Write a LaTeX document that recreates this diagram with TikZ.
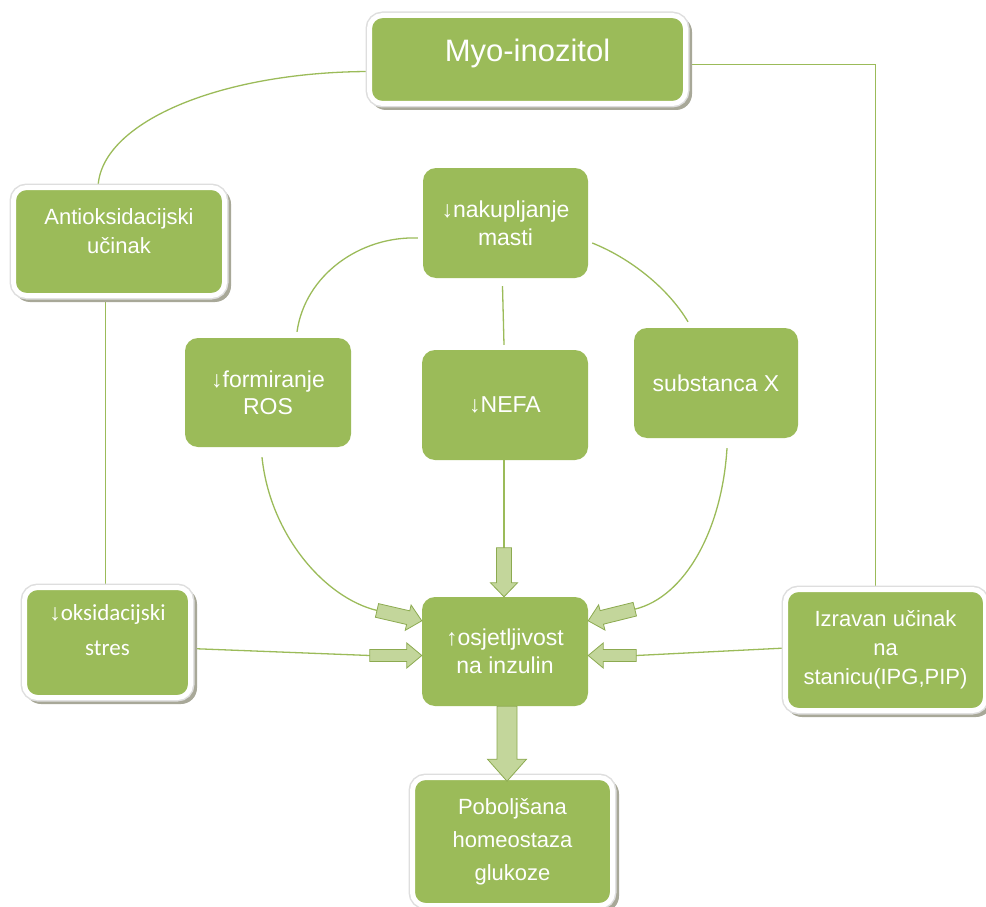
\documentclass[tikz,border=0pt]{standalone}
\usepackage{fontspec}
\setmainfont{Liberation Sans}
\newfontfamily\calib{Carlito}
\usetikzlibrary{calc,backgrounds}
\definecolor{gr}{HTML}{9BBB59}
\definecolor{lgr}{HTML}{C3D69B}
\definecolor{dgr}{HTML}{8CAA50}
\definecolor{shd}{RGB}{168,168,152}
\definecolor{rim}{RGB}{222,222,222}
\newcommand\blockarr[7]{%
  \begin{scope}[shift={#1}, rotate=#2]
    \draw[barrowst] (0,0) -- (-#6,-#5) -- (-#6,-#4) -- (-#3,-#4) -- (-#3,#4) -- (-#6,#4) -- (-#6,#5) -- cycle;
    \coordinate (#7) at (-#3,0);
  \end{scope}}
\newcommand\shadowfor[1]{\fill[shd, rounded corners=16pt] ($(#1.north west)+(3,3)$) rectangle ($(#1.south east)+(4,4)$);}
\begin{document}
\begin{tikzpicture}[x=1pt,y=-1pt,
  box/.style={rectangle, rounded corners=13pt, fill=gr, text=white, align=center, inner sep=0pt,
    font=\fontsize{23}{28}\selectfont},
  obox/.style={box, draw=white, line width=5pt, preaction={draw=rim, line width=8pt},
    font=\fontsize{22}{29}\selectfont},
  link/.style={draw=gr, line width=1.3pt},
  barrowst/.style={fill=lgr, draw=dgr, line width=0.8pt, line join=miter}]
\useasboundingbox (0,0) rectangle (986,907);

% outer boxes
\node[obox, minimum width=316pt, minimum height=88pt, font=\fontsize{31}{36}\selectfont] (myo) at (527.5,59.5)
  {\raisebox{6pt}[\height][\depth]{Myo-inozitol}};
\node[obox, minimum width=211pt, minimum height=108pt] (anti) at (119,241.5)
  {\raisebox{8pt}[\height][\depth]{\begin{tabular}{@{}c@{}}Antioksidacijski\\učinak\end{tabular}}};
\node[obox, minimum width=166pt, minimum height=110pt, font=\fontsize{23}{35}\selectfont\calib] (oks) at (107.5,642.5)
  {\raisebox{12pt}[\height][\depth]{\begin{tabular}{@{}c@{}}{\normalfont ↓}oksidacijski\\stres\end{tabular}}};
\node[obox, minimum width=200pt, minimum height=121pt] (izr) at (885.5,650)
  {Izravan učinak\\na\\stanicu(IPG,PIP)};
\node[obox, minimum width=200pt, minimum height=128pt, font=\fontsize{22}{33}\selectfont] (pob) at (512.5,841.5)
  {Poboljšana\\homeostaza\\glukoze};

% inner boxes
\node[box, minimum width=165pt, minimum height=110pt] (nak) at (505.5,223) {↓nakupljanje\\masti};
\node[box, minimum width=166pt, minimum height=109pt, font=\fontsize{23}{27}\selectfont] (ros) at (268,392.5) {↓formiranje\\ROS};
\node[box, minimum width=166pt, minimum height=110pt] (nefa) at (505,405) {↓NEFA};
\node[box, minimum width=164pt, minimum height=110pt] (subx) at (716,383) {substanca X};
\node[box, minimum width=166pt, minimum height=109pt] (osj) at (505,651.5) {↑osjetljivost\\na inzulin};

% block arrows
\blockarr{($(osj.north west)+(0,24)$)}{-13}{46}{7}{13}{14}{A1}
\blockarr{($(osj.north)+(-1,0)$)}{-90}{49}{7.5}{13.5}{14}{A2}
\blockarr{($(osj.north east)+(0,24)$)}{194}{48}{7}{13}{14}{A3}
\blockarr{($(osj.west)+(0,4)$)}{0}{52}{6}{12.5}{15}{A4}
\blockarr{($(osj.east)+(0,4)$)}{180}{48}{6}{12.5}{15}{A5}
\blockarr{($(osj.south)+(2,75)$)}{-90}{75}{10}{19.5}{22}{A6}

\begin{scope}[on background layer]
  \coordinate (oksN) at ($(oks.north)+(-2,4)$);
  \draw[link] ($(myo.west)+(2,12)$) .. controls (217,72) and (98,124) .. ($(anti.north)+(-21,4)$);
  \draw[link] ($(myo.east)+(-2,5)$) -| ($(izr.north)+(-10,4)$);
  \draw[link] (oksN |- anti.south) -- (oksN);
  \draw[link] ($(oks.east)+(-3,6)$) -- (A4);
  \draw[link] ($(izr.west)+(3,-2)$) -- (A5);
  \draw[link] ($(nak.west)+(-5,15)$) .. controls (360,236) and (305,275) .. ($(ros.north)+(29,-6)$);
  \draw[link] ($(nak.east)+(4,20)$) .. controls (630,258) and (668,288) .. ($(subx.north)+(-28,-6)$);
  \draw[link] ($(nak.south)+(-3,8)$) -- ($(nefa.north)+(-1,-5)$);
  \draw[link] ($(nefa.south)+(-1,0)$) -- (A2);
  \draw[link] ($(ros.south)+(-6,10)$) .. controls (270,535) and (325,598) .. (A1);
  \draw[link] ($(subx.south)+(11,10)$) .. controls (722,530) and (685,597) .. (A3);
  \shadowfor{myo}
  \shadowfor{anti}
  \shadowfor{oks}
  \shadowfor{izr}
  \shadowfor{pob}
\end{scope}
\end{tikzpicture}
\end{document}
